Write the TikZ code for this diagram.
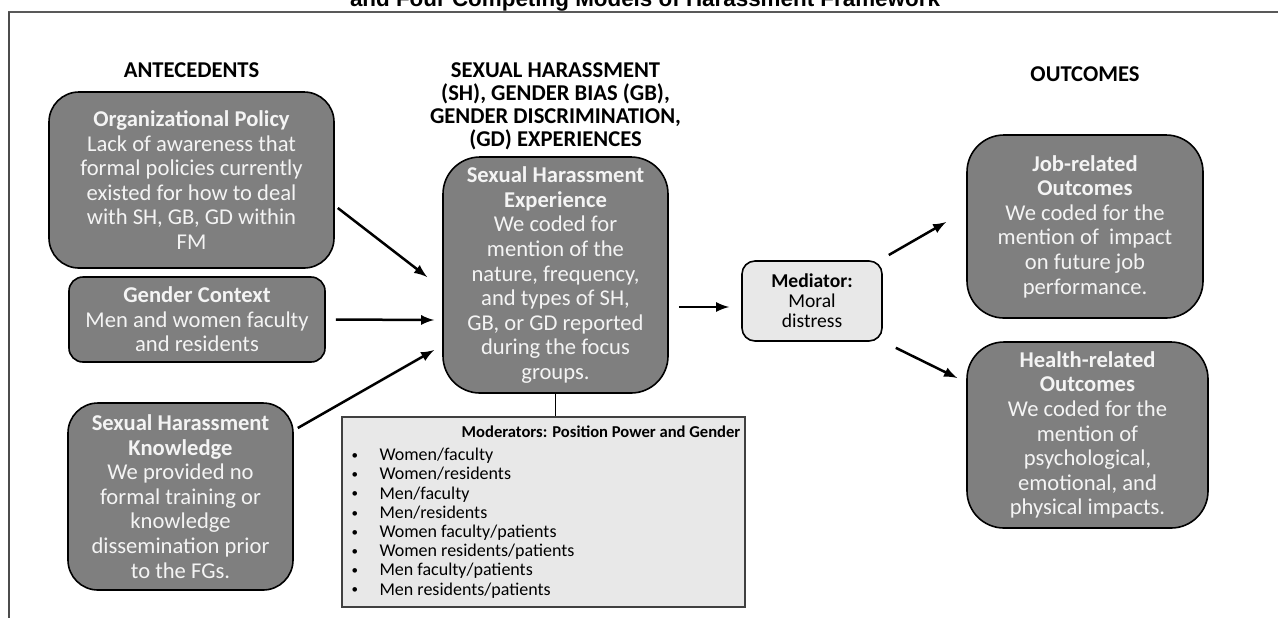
\documentclass[tikz,border=0pt]{standalone}
\usepackage{fontspec}
\setmainfont{Carlito}
\newfontfamily\capfont{Liberation Sans}
\usetikzlibrary{arrows,positioning}
\definecolor{boxgray}{HTML}{7F7F7F}
\definecolor{boxtext}{HTML}{F4F4F4}
\definecolor{boxlight}{HTML}{E8E8E8}
\newcommand{\modbullet}{\makebox[14pt][l]{\fontsize{6.5}{6.5}\selectfont\raisebox{0.6pt}{\textbullet}}}

\begin{document}
\begin{tikzpicture}[x=0.5pt,y=-0.5pt,
	darkbox/.style={draw=black, line width=0.8pt, fill=boxgray, text=boxtext, align=center, inner sep=0pt, font=\fontsize{11.3}{12.3}\selectfont},
	lightbox/.style={draw=black, line width=0.8pt, fill=boxlight, align=center, inner sep=0pt},
	head/.style={font=\fontsize{11.3}{11.5}\selectfont\bfseries, align=center, inner sep=0pt},
	arr/.style={-latex, line width=1.25pt}]
	\useasboundingbox (0,0) rectangle (1278,618);
	\node [font=\capfont\fontsize{11.2}{12}\selectfont\bfseries, anchor=base, inner sep=0pt] (title) at (645,6) {and Four Competing Models of Harassment Framework};
	\draw [black!65, line width=1.2pt] (8,12) -- (1278,12);
	\draw [black!70, line width=0.6pt] (9,12) -- (9,618);

	\node [darkbox, minimum width=142.5pt, minimum height=88pt, rounded corners=15pt] (org) at (191.5,180) {\textbf{Organizational Policy}\\Lack of awareness that\\formal policies currently\\existed for how to deal\\with SH, GB, GD within\\FM};
	\node [darkbox, minimum width=128pt, minimum height=42.5pt, rounded corners=7pt] (gender) at (197,319.5) {\textbf{Gender Context}\\Men and women faculty\\and residents};
	\node [darkbox, minimum width=112.5pt, minimum height=93.5pt, rounded corners=15pt] (know) at (180.5,496.5) {\textbf{Sexual Harassment}\\\textbf{Knowledge}\\We provided no\\formal training or\\knowledge\\dissemination prior\\to the FGs.};
	\node [darkbox, minimum width=112.5pt, minimum height=118pt, rounded corners=18.5pt] (central) at (555.5,275) {\textbf{Sexual Harassment}\\\textbf{Experience}\\We coded for\\mention of the\\nature, frequency,\\and types of SH,\\GB, or GD reported\\during the focus\\groups.};
	\node [lightbox, draw=black!75, minimum width=201.5pt, minimum height=95pt] (moderator) at (543.5,512) {};
	\node [lightbox, minimum width=70pt, minimum height=40pt, rounded corners=6.5pt, font=\fontsize{9.8}{10}\selectfont] (mediator) at (812,301) {\textbf{Mediator:}\\Moral\\distress};
	\node [darkbox, minimum width=118pt, minimum height=91.5pt, rounded corners=18.5pt] (job) at (1085,226.5) {\textbf{Job-related}\\\textbf{Outcomes}\\We coded for the\\mention of~ impact\\on future job\\performance.};
	\node [darkbox, minimum width=120.5pt, minimum height=93pt, rounded corners=18.5pt] (health) at (1087.5,435) {\textbf{Health-related}\\\textbf{Outcomes}\\We coded for the\\mention of\\psychological,\\emotional, and\\physical impacts.};

	\node [head] (antecedents) [above=6.75pt of org] {ANTECEDENTS};
	\node [head] (experiences) [above=3pt of central] {SEXUAL HARASSMENT\\(SH), GENDER BIAS (GB),\\GENDER DISCRIMINATION,\\(GD) EXPERIENCES};
	\node [head] (outcomes) [above=26pt of job] {OUTCOMES};

	\node [font=\fontsize{8.3}{9.6}\selectfont\bfseries, inner sep=0pt] (modtitle) at ([xshift=28.75pt,yshift=-8pt]moderator.north) {Moderators: Position Power and Gender};
	\node [font=\fontsize{9}{9.6}\selectfont, align=left, inner sep=0pt, anchor=west] (modlist) at ([xshift=5pt,yshift=-5.5pt]moderator.west) {\modbullet Women/faculty\\\modbullet Women/residents\\\modbullet Men/faculty\\\modbullet Men/residents\\\modbullet Women faculty/patients\\\modbullet Women residents/patients\\\modbullet Men faculty/patients\\\modbullet Men residents/patients};

	\path [arr]
		([xshift=1.5pt,yshift=-14pt]org.east) edge ([xshift=-7.5pt,yshift=-1pt]central.west)
		([xshift=5pt]gender.east) edge ([xshift=-4pt,yshift=-22.5pt]central.west)
		([xshift=2pt,yshift=34.25pt]know.east) edge ([xshift=-4pt,yshift=-37.5pt]central.west)
		([xshift=5pt,yshift=-16pt]central.east) edge ([xshift=-6pt,yshift=-3pt]mediator.west)
		([xshift=3pt,yshift=23pt]mediator.east) edge ([xshift=-10pt,yshift=2.25pt]job.west)
		([xshift=6.5pt,yshift=-3pt]mediator.south east) edge ([xshift=-4.5pt,yshift=28.5pt]health.west)
		;
	\draw [line width=0.6pt] (central.south) -- (central.south |- moderator.north);

\end{tikzpicture}
\end{document}
